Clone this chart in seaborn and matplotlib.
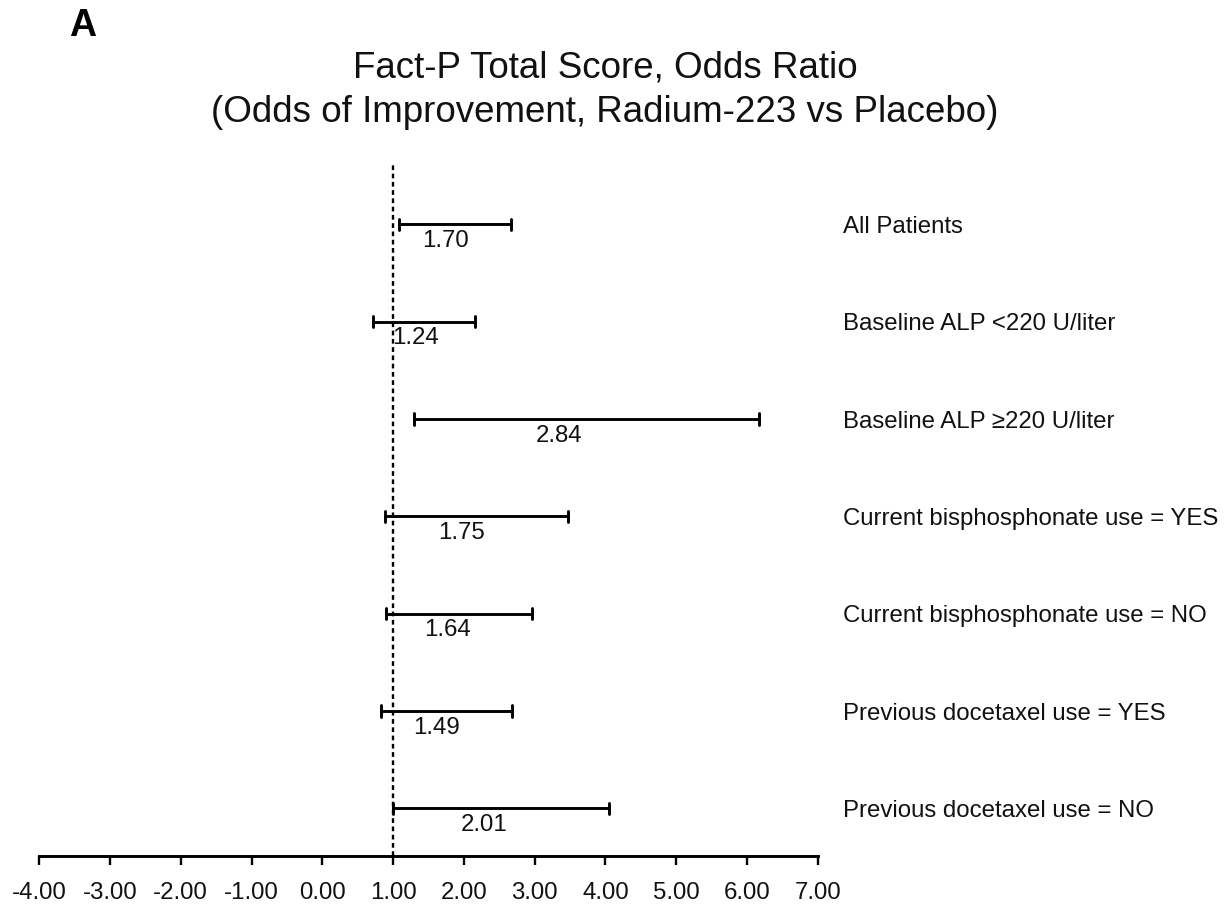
import numpy as np
import pandas as pd
import matplotlib
matplotlib.use("Agg")
import matplotlib.pyplot as plt
import seaborn as sns

# Subgroups, odds ratios and 95% confidence limits
subgroups = [
    "All Patients",
    "Baseline ALP <220 U/liter",
    "Baseline ALP \u2265220 U/liter",
    "Current bisphosphonate use = YES",
    "Current bisphosphonate use = NO",
    "Previous docetaxel use = YES",
    "Previous docetaxel use = NO",
]
odds_ratio = [1.70, 1.24, 2.84, 1.75, 1.64, 1.49, 2.01]
ci_low = [1.08, 0.71, 1.30, 0.88, 0.90, 0.83, 1.00]
ci_high = [2.66, 2.16, 6.17, 3.47, 2.97, 2.68, 4.05]
x_ticks = [-4, -3, -2, -1, 0, 1, 2, 3, 4, 5, 6, 7]

sns.set_theme(style="white")
plt.rcParams["font.family"] = ["Liberation Sans", "DejaVu Sans"]

# Long form: each interval contributes its two limits; the full range is the bar
long = pd.DataFrame({
    "subgroup": subgroups * 2,
    "value": ci_low + ci_high,
})

fig = plt.figure(figsize=(12.27, 9.07), dpi=100)
ax = fig.add_axes([0.0320, 0.0562, 0.6344, 0.7619])

sns.pointplot(
    data=long, x="value", y="subgroup", order=subgroups,
    estimator="mean", errorbar=("pi", 100), orient="h",
    color="black", markers="none", linestyles="none",
    capsize=0.115, err_kws={"linewidth": 2.1}, ax=ax,
)

# Reference line at OR = 1
ax.axvline(1.0, color="black", linestyle=(0, (2.0, 1.5)), linewidth=1.7, zorder=0)

# Odds-ratio labels under each interval
for i, (orv, lo, hi) in enumerate(zip(odds_ratio, ci_low, ci_high)):
    ax.text(lo + 0.42 * (hi - lo), i + 0.17, f"{orv:.2f}",
            ha="center", va="center", fontsize=17.3, color="#111111")

ax.set_xlim(-4, 7)
ax.set_ylim(6.49, -0.61)
ax.set_xticks(x_ticks)
ax.set_xticklabels([f"{t:.2f}" for t in x_ticks], fontsize=17.3, color="#111111")
ax.set_xlabel("")
ax.set_ylabel("")

ax.yaxis.tick_right()
ax.tick_params(axis="y", length=0, pad=18, labelsize=17.3, labelcolor="#111111")
ax.tick_params(axis="x", direction="out", length=6.5, width=1.7, pad=12,
               bottom=True, color="black")

for side in ["left", "right", "top"]:
    ax.spines[side].set_visible(False)
ax.spines["bottom"].set_color("black")
ax.spines["bottom"].set_linewidth(2.1)

fig.text(605 / 1227, 1 - 68 / 907, "Fact-P Total Score, Odds Ratio",
         ha="center", va="center", fontsize=26.5, color="#111111")
fig.text(605 / 1227, 1 - 113 / 907, "(Odds of Improvement, Radium-223 vs Placebo)",
         ha="center", va="center", fontsize=26.5, color="#111111")
fig.text(83 / 1227, 1 - 26 / 907, "A", ha="center", va="center",
         fontsize=27, fontweight="bold", color="black")

fig.savefig("out.png", dpi=100, facecolor="white")
